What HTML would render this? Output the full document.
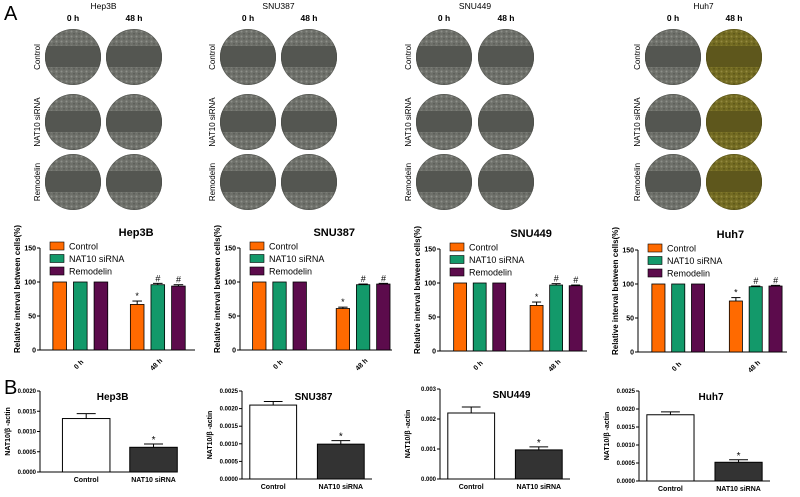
<!DOCTYPE html>
<html><head><meta charset="utf-8"><style>
html,body{margin:0;padding:0;background:#fff;}
svg{display:block;font-family:"Liberation Sans",Arial,sans-serif;}
</style></head><body>
<svg id="fig" width="800" height="497" viewBox="0 0 800 497">
<defs>
<pattern id="cells" width="5" height="5" patternUnits="userSpaceOnUse"><rect width="5" height="5" fill="#6e706a"/><circle cx="1.5" cy="1.5" r="1" fill="#8e908a"/><circle cx="4" cy="3.8" r="0.8" fill="#555752"/></pattern>
<pattern id="cellsY" width="5" height="5" patternUnits="userSpaceOnUse"><rect width="5" height="5" fill="#736b22"/><circle cx="1.5" cy="1.5" r="1" fill="#948a40"/><circle cx="4" cy="3.8" r="0.8" fill="#544e15"/></pattern>
</defs>
<text x="4" y="20" font-size="20">A</text>
<text x="4" y="394" font-size="20">B</text>
<g id="root"></g>
</svg>
<script>
const NS="http://www.w3.org/2000/svg";
const root=document.getElementById('root');
function mk(tag,attrs,parent,txt){const e=document.createElementNS(NS,tag);for(const k in attrs)e.setAttribute(k,attrs[k]);if(txt!==undefined)e.textContent=txt;(parent||root).appendChild(e);return e;}

// ---- data ----
const cellLines=["Hep3B","SNU387","SNU449","Huh7"];
const groups=["0 h","48 h"];
const treatments=["Control","NAT10 siRNA","Remodelin"];
const rowLabels=["Control","NAT10 siRNA","Remodelin"];
const hep3bVals=[[100,100,100],[67,96,94]];
const snu387Vals=[[100,100,100],[61,96,97]];
const snu449Vals=[[100,100,100],[67,97,96]];
const huh7Vals=[[100,100,100],[75,96,97]];
const hep3bErr=[[0,0,0],[5,2,2]];
const snu387Err=[[0,0,0],[2,1,1]];
const snu449Err=[[0,0,0],[5,2,1]];
const huh7Err=[[0,0,0],[5,1,1]];
const markers48=["*","#","#"];
const aTicks=[0,50,100,150];
const bCats=["Control","NAT10 siRNA"];
const hep3bB=[0.00132,0.00061], hep3bBErr=[0.00012,0.00008];
const snu387B=[0.0021,0.00099], snu387BErr=[0.0001,0.0001];
const snu449B=[0.0022,0.00097], snu449BErr=[0.0002,0.0001];
const huh7B=[0.00184,0.00052], huh7BErr=[0.00008,0.00007];
const hep3bBTicks=["0.0000","0.0005","0.0010","0.0015","0.0020"];
const snu387BTicks=["0.0000","0.0005","0.0010","0.0015","0.0020","0.0025"];
const snu449BTicks=["0.000","0.001","0.002","0.003"];
const huh7BTicks=["0.0000","0.0005","0.0010","0.0015","0.0020","0.0025"];

const colors=["#ff6a00","#13996a","#5c0b4c"];

const A=[{x0:40,x1:195,y0:350,y1:248,g:[0.26,0.76]},{x0:240,x1:392,y0:350,y1:248,g:[0.26,0.81]},{x0:440,x1:587,y0:351,y1:249,g:[0.27,0.79]},{x0:638,x1:787,y0:352,y1:250,g:[0.27,0.79]}];
const Bl=[{x0:40,x1:172,y0:472,y1:391,c:[0.35,0.86]},{x0:242,x1:372,y0:479,y1:391,c:[0.24,0.76]},{x0:440,x1:570,y0:479,y1:389,c:[0.24,0.76]},{x0:639,x1:770,y0:481,y1:391,c:[0.24,0.76]}];
const photoCols=[[73,134],[248,309],[444,506],[673,734]];
const photoRows=[57,122,182];
const Avals=[hep3bVals,snu387Vals,snu449Vals,huh7Vals];
const Aerrs=[hep3bErr,snu387Err,snu449Err,huh7Err];
const Bvals=[hep3bB,snu387B,snu449B,huh7B];
const Berrs=[hep3bBErr,snu387BErr,snu449BErr,huh7BErr];
const Bticks=[hep3bBTicks,snu387BTicks,snu449BTicks,huh7BTicks];

cellLines.forEach((name,p)=>{
  const pc=photoCols[p];
  const t=mk('text',{x:(pc[0]+pc[1])/2,y:9,'font-size':8.5,'text-anchor':'middle'},root,name);
  
  
  groups.forEach((gname,ci)=>{
    const h=mk('text',{x:pc[ci],y:21,'font-size':8.5,'font-weight':'bold','text-anchor':'middle'},root,gname);
    
    
  });
  rowLabels.forEach((rl,ri)=>{
    const cy=photoRows[ri];
    const lx=pc[0]-33;
    const l=mk('text',{x:lx,y:cy,'font-size':8,'text-anchor':'middle',transform:`rotate(-90 ${lx} ${cy})`},root,rl);
    
    
    pc.forEach((cx,ci)=>{
      const yel=(p===3&&ci===1);
      const g=mk('g',{},root);
      
      
      const cid='clip'+p+ri+ci;
      const cp=mk('clipPath',{id:cid},g);mk('circle',{cx:cx,cy:cy,r:28},cp);
      const gg=mk('g',{'clip-path':`url(#${cid})`},g);
      mk('rect',{x:cx-28,y:cy-28,width:56,height:56,fill:yel?'url(#cellsY)':'url(#cells)'},gg);
      mk('rect',{x:cx-28,y:cy-11,width:56,height:21,fill:yel?'#5e571c':'#545651'},gg);
      mk('circle',{cx:cx,cy:cy,r:28,fill:'none',stroke:yel?'#4a4515':'#444641','stroke-width':1.5,opacity:0.5},gg);
    });
  });

  const L=A[p];
  const ys=v=>L.y0-(v/150)*(L.y0-L.y1);
  const W=L.x1-L.x0;
  const gA=mk('g',{},root);
  
  
  const tt=mk('text',{x:L.x0+W*0.62,y:L.y1-12,'font-size':11,'font-weight':'bold','text-anchor':'middle'},gA,name);
  
  
  mk('line',{x1:L.x0,y1:L.y1,x2:L.x0,y2:L.y0,stroke:'#000','stroke-width':1},gA);
  mk('line',{x1:L.x0,y1:L.y0,x2:L.x1,y2:L.y0,stroke:'#000','stroke-width':1},gA);
  aTicks.forEach(tv=>{
    mk('line',{x1:L.x0-3,y1:ys(tv),x2:L.x0,y2:ys(tv),stroke:'#000'},gA);
    const tl=mk('text',{x:L.x0-4,y:ys(tv)+2.5,'font-size':7,'font-weight':'bold','text-anchor':'end'},gA,tv);
    
    
  });
  const yt=mk('text',{x:L.x0-20,y:(L.y0+L.y1)/2-10,'font-size':8,'font-weight':'bold','text-anchor':'middle',transform:`rotate(-90 ${L.x0-20} ${(L.y0+L.y1)/2-10})`},gA,'Relative interval between cells(%)');
  
  
  const bw=W*0.088, step=W*0.133;
  groups.forEach((gn,gi)=>{
    const gc=L.x0+W*L.g[gi];
    const xl=mk('text',{x:gc,y:L.y0+16,'font-size':7,'font-weight':'bold','text-anchor':'middle',transform:`rotate(-45 ${gc} ${L.y0+16})`},gA,gn);
    
    
    treatments.forEach((tr,ti)=>{
      const v=Avals[p][gi][ti], e=Aerrs[p][gi][ti];
      const bx=gc+(ti-1)*step-bw/2;
      const r=mk('rect',{x:bx,y:ys(v),width:bw,height:ys(0)-ys(v),fill:colors[ti],stroke:'#000','stroke-width':0.8},gA);
      
      
      if(e>0){
        mk('line',{x1:bx+bw/2,y1:ys(v),x2:bx+bw/2,y2:ys(v+e),stroke:'#000'},gA);
        mk('line',{x1:bx+bw*0.15,y1:ys(v+e),x2:bx+bw*0.85,y2:ys(v+e),stroke:'#000'},gA);
      }
      if(gi===1){
        const m=mk('text',{x:bx+bw/2,y:ys(v+e)-2,'font-size':9,'text-anchor':'middle','font-style':markers48[ti]==='#'?'italic':'normal'},gA,markers48[ti]);
        
        
      }
    });
  });
  treatments.forEach((tr,ti)=>{
    const ly=L.y1-2+ti*12.5;
    const sw=mk('rect',{x:L.x0+10,y:ly-4,width:14,height:8,fill:colors[ti],stroke:'#000','stroke-width':0.6},gA);
    
    
    const lt=mk('text',{x:L.x0+29,y:ly+3.5,'font-size':9},gA,tr);
    
    
  });

  const M=Bl[p];
  const ticks=Bticks[p];
  const maxv=parseFloat(ticks[ticks.length-1]);
  const yb=v=>M.y0-(v/maxv)*(M.y0-M.y1);
  const WB=M.x1-M.x0;
  const gB=mk('g',{},root);
  
  
  const bt=mk('text',{x:M.x0+WB*0.55,y:M.y1+9,'font-size':10,'font-weight':'bold','text-anchor':'middle'},gB,name);
  
  
  mk('line',{x1:M.x0,y1:M.y1,x2:M.x0,y2:M.y0,stroke:'#000'},gB);
  mk('line',{x1:M.x0,y1:M.y0,x2:M.x1,y2:M.y0,stroke:'#000'},gB);
  ticks.forEach(ts=>{
    const tv=parseFloat(ts);
    mk('line',{x1:M.x0-3,y1:yb(tv),x2:M.x0,y2:yb(tv),stroke:'#000'},gB);
    const tl=mk('text',{x:M.x0-4,y:yb(tv)+2,'font-size':6,'font-weight':'bold','text-anchor':'end'},gB,ts);
    
    
  });
  const ax=M.x0-30, ay=(M.y0+M.y1)/2;
  const byt=mk('text',{x:ax,y:ay,'font-size':7,'font-weight':'bold','text-anchor':'middle',transform:`rotate(-90 ${ax} ${ay})`},gB,'NAT10/β -actin');
  
  
  const bbw=WB*0.36;
  bCats.forEach((c,ci)=>{
    const cx=M.x0+WB*M.c[ci];
    const v=Bvals[p][ci], e=Berrs[p][ci];
    const r=mk('rect',{x:cx-bbw/2,y:yb(v),width:bbw,height:yb(0)-yb(v),fill:ci===0?'#fff':'#333',stroke:'#000','stroke-width':1},gB);
    
    
    mk('line',{x1:cx,y1:yb(v),x2:cx,y2:yb(v+e),stroke:'#000'},gB);
    mk('line',{x1:cx-bbw*0.2,y1:yb(v+e),x2:cx+bbw*0.2,y2:yb(v+e),stroke:'#000'},gB);
    if(ci===1){const s=mk('text',{x:cx,y:yb(v+e)-1,'font-size':10,'text-anchor':'middle'},gB,'*');
      
      }
    const xl=mk('text',{x:cx,y:M.y0+10,'font-size':7,'font-weight':'bold','text-anchor':'middle'},gB,c);
    
    
  });
});
</script>
</body></html>
